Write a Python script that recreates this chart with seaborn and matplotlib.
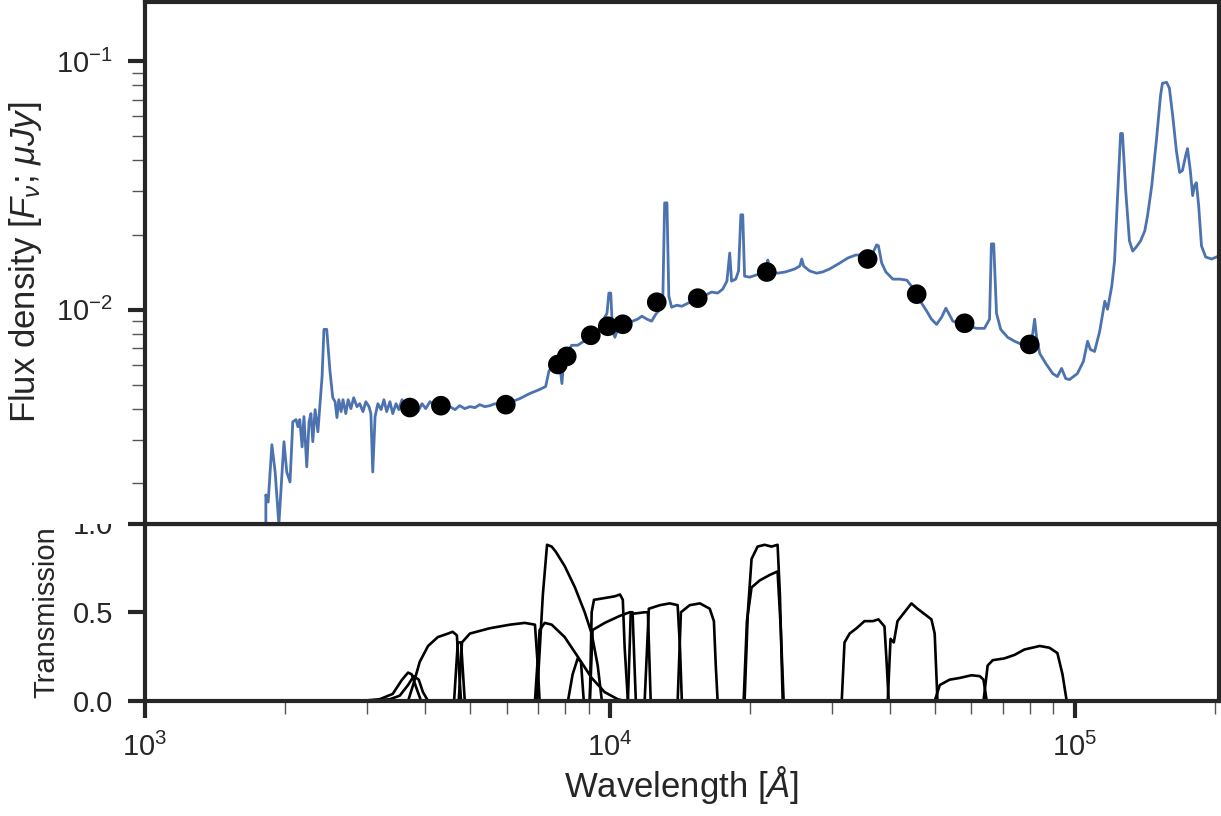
import numpy as np
import pandas as pd
import matplotlib
matplotlib.use("Agg")
import matplotlib.pyplot as plt
import seaborn as sns
from matplotlib.transforms import Bbox, TransformedBbox
from matplotlib.ticker import LogLocator, NullFormatter

# ---------------- data ----------------
# model spectrum: log10 wavelength [Angstrom], log10 flux density [uJy]
spec_log_wave = [
    3.260, 3.260, 3.265, 3.273, 3.280, 3.288, 3.299, 3.305, 3.312, 3.318,
    3.325, 3.329, 3.333, 3.338, 3.342, 3.348, 3.353, 3.357, 3.361, 3.366,
    3.372, 3.376, 3.381, 3.385, 3.391, 3.398, 3.404, 3.409, 3.413, 3.417,
    3.422, 3.426, 3.432, 3.437, 3.443, 3.449, 3.456, 3.462, 3.469, 3.475,
    3.482, 3.486, 3.490, 3.495, 3.501, 3.508, 3.514, 3.520, 3.527, 3.533,
    3.540, 3.546, 3.553, 3.559, 3.570, 3.581, 3.587, 3.596, 3.604, 3.613,
    3.624, 3.634, 3.645, 3.656, 3.667, 3.677, 3.688, 3.699, 3.710, 3.720,
    3.731, 3.742, 3.753, 3.763, 3.776, 3.789, 3.806, 3.828, 3.849, 3.862,
    3.869, 3.877, 3.886, 3.892, 3.897, 3.901, 3.910, 3.918, 3.931, 3.944,
    3.957, 3.970, 3.978, 3.987, 3.994, 3.998, 4.002, 4.006, 4.011, 4.017,
    4.026, 4.037, 4.049, 4.060, 4.069, 4.080, 4.090, 4.099, 4.108, 4.114,
    4.118, 4.123, 4.127, 4.133, 4.144, 4.155, 4.168, 4.178, 4.194, 4.206,
    4.219, 4.232, 4.243, 4.252, 4.258, 4.262, 4.271, 4.277, 4.282, 4.286,
    4.290, 4.301, 4.314, 4.327, 4.338, 4.340, 4.344, 4.361, 4.378, 4.398,
    4.409, 4.413, 4.417, 4.430, 4.445, 4.458, 4.473, 4.495, 4.512, 4.529,
    4.542, 4.555, 4.566, 4.574, 4.578, 4.585, 4.594, 4.609, 4.624, 4.639,
    4.649, 4.660, 4.671, 4.682, 4.692, 4.703, 4.714, 4.723, 4.729, 4.738,
    4.753, 4.763, 4.774, 4.789, 4.806, 4.817, 4.821, 4.826, 4.832, 4.841,
    4.856, 4.871, 4.886, 4.903, 4.910, 4.914, 4.918, 4.925, 4.938, 4.953,
    4.963, 4.972, 4.981, 4.989, 5.006, 5.019, 5.028, 5.034, 5.043, 5.054,
    5.065, 5.071, 5.080, 5.086, 5.092, 5.099, 5.103, 5.110, 5.118, 5.125,
    5.133, 5.142, 5.151, 5.157, 5.166, 5.176, 5.185, 5.189, 5.198, 5.204,
    5.211, 5.219, 5.226, 5.232, 5.239, 5.243, 5.249, 5.254, 5.258, 5.262,
    5.267, 5.273, 5.282, 5.295, 5.310, 5.330,
]
spec_log_flux = [
    -2.867, -2.745, -2.774, -2.543, -2.653, -2.863, -2.531, -2.653, -2.693, -2.451,
    -2.442, -2.471, -2.442, -2.552, -2.430, -2.632, -2.451, -2.418, -2.531, -2.402,
    -2.491, -2.390, -2.269, -2.079, -2.079, -2.248, -2.354, -2.370, -2.434, -2.362,
    -2.410, -2.362, -2.418, -2.362, -2.398, -2.354, -2.390, -2.378, -2.410, -2.370,
    -2.390, -2.418, -2.653, -2.430, -2.378, -2.402, -2.362, -2.410, -2.370, -2.418,
    -2.378, -2.402, -2.362, -2.410, -2.390, -2.370, -2.410, -2.378, -2.398, -2.370,
    -2.386, -2.378, -2.402, -2.390, -2.402, -2.386, -2.398, -2.390, -2.394, -2.382,
    -2.390, -2.386, -2.378, -2.386, -2.378, -2.370, -2.358, -2.337, -2.321, -2.309,
    -2.248, -2.224, -2.232, -2.216, -2.297, -2.200, -2.168, -2.143, -2.143, -2.127,
    -2.111, -2.099, -2.071, -2.038, -2.014, -1.933, -1.933, -2.087, -2.111, -2.079,
    -2.071, -2.055, -2.046, -2.038, -2.026, -2.038, -2.046, -2.018, -1.998, -1.966,
    -1.570, -1.570, -1.945, -1.990, -1.982, -1.986, -1.974, -1.966, -1.958, -1.941,
    -1.929, -1.933, -1.917, -1.885, -1.772, -1.885, -1.877, -1.844, -1.618, -1.618,
    -1.865, -1.869, -1.861, -1.853, -1.844, -1.800, -1.844, -1.853, -1.848, -1.836,
    -1.824, -1.796, -1.824, -1.844, -1.853, -1.848, -1.836, -1.812, -1.792, -1.780,
    -1.780, -1.796, -1.772, -1.739, -1.743, -1.812, -1.848, -1.877, -1.877, -1.881,
    -1.905, -1.937, -1.974, -2.006, -2.038, -2.059, -2.030, -1.994, -2.014, -2.046,
    -2.055, -2.055, -2.067, -2.075, -2.075, -2.038, -1.735, -1.735, -2.014, -2.079,
    -2.111, -2.127, -2.139, -2.139, -2.095, -2.038, -2.107, -2.176, -2.216, -2.257,
    -2.269, -2.236, -2.277, -2.281, -2.257, -2.208, -2.127, -2.160, -2.168, -2.087,
    -1.966, -1.998, -1.905, -1.804, -1.562, -1.291, -1.291, -1.521, -1.723, -1.764,
    -1.747, -1.723, -1.683, -1.622, -1.501, -1.319, -1.137, -1.089, -1.085, -1.109,
    -1.218, -1.360, -1.448, -1.440, -1.380, -1.352, -1.440, -1.541, -1.501, -1.489,
    -1.582, -1.743, -1.788, -1.796, -1.784, -1.782,
]

# photometry points: wavelength [Angstrom], flux density [uJy]
phot_wave = [3715, 4331, 5974, 7731, 8080, 9102, 9901, 10665,
             12620, 15460, 21760, 35870, 45740, 57990, 80050]
phot_flux = [0.00404, 0.00411, 0.00415, 0.00602, 0.00649, 0.00789, 0.00858, 0.00874,
             0.01072, 0.01113, 0.01418, 0.01600, 0.01155, 0.00882, 0.00725]

# filter transmission curves: log10 wavelength [Angstrom] and transmission
filt_u1_logw = [3.462, 3.505, 3.533, 3.553, 3.566, 3.574, 3.583, 3.594]
filt_u1_T = [0, 0.01, 0.04, 0.12, 0.16, 0.15, 0.08, 0]
filt_u2_logw = [3.484, 3.527, 3.548, 3.566, 3.578, 3.589, 3.598, 3.609]
filt_u2_T = [0, 0.01, 0.03, 0.09, 0.14, 0.12, 0.05, 0]
filt_g_logw = [3.566, 3.578, 3.591, 3.609, 3.630, 3.652, 3.662, 3.671, 3.675, 3.680]
filt_g_T = [0, 0.10, 0.22, 0.31, 0.36, 0.38, 0.39, 0.37, 0.20, 0]
filt_n1_logw = [3.665, 3.673, 3.680, 3.688]
filt_n1_T = [0, 0.33, 0.33, 0]
filt_r_logw = [3.675, 3.682, 3.699, 3.742, 3.785, 3.817, 3.839, 3.845, 3.849]
filt_r_T = [0, 0.33, 0.38, 0.41, 0.43, 0.44, 0.43, 0.20, 0]
filt_w_logw = [3.839, 3.849, 3.860, 3.875, 3.903, 3.931, 3.961, 3.989, 4.017, 4.032]
filt_w_T = [0, 0.40, 0.44, 0.43, 0.36, 0.25, 0.13, 0.05, 0.01, 0]
filt_i_logw = [3.843, 3.856, 3.865, 3.875, 3.884, 3.903, 3.925, 3.946, 3.961, 3.974, 3.983]
filt_i_T = [0, 0.60, 0.88, 0.87, 0.84, 0.76, 0.64, 0.50, 0.38, 0.20, 0]
filt_nb_logw = [3.910, 3.920, 3.931, 3.938, 3.944]
filt_nb_T = [0, 0.15, 0.24, 0.22, 0]
filt_z_logw = [3.957, 3.961, 3.966, 3.989, 4.011, 4.022, 4.028, 4.032, 4.039]
filt_z_T = [0, 0.50, 0.57, 0.58, 0.59, 0.60, 0.57, 0.30, 0]
filt_y_logw = [3.957, 3.963, 3.989, 4.022, 4.043, 4.049, 4.056]
filt_y_T = [0, 0.40, 0.44, 0.48, 0.50, 0.50, 0]
filt_Y_logw = [4.039, 4.045, 4.075, 4.082, 4.088]
filt_Y_T = [0, 0.49, 0.50, 0.50, 0]
filt_J_logw = [4.075, 4.084, 4.108, 4.129, 4.146, 4.151, 4.155]
filt_J_T = [0, 0.52, 0.54, 0.55, 0.54, 0.30, 0]
filt_H_logw = [4.146, 4.153, 4.172, 4.194, 4.215, 4.224, 4.228, 4.232]
filt_H_T = [0, 0.50, 0.54, 0.55, 0.52, 0.45, 0.20, 0]
filt_K1_logw = [4.290, 4.297, 4.305, 4.318, 4.333, 4.348, 4.361, 4.366, 4.372]
filt_K1_T = [0, 0.50, 0.80, 0.87, 0.88, 0.87, 0.88, 0.60, 0]
filt_K2_logw = [4.288, 4.295, 4.305, 4.323, 4.344, 4.361, 4.368, 4.374]
filt_K2_T = [0, 0.45, 0.64, 0.68, 0.71, 0.73, 0.40, 0]
filt_ch1_logw = [4.499, 4.505, 4.516, 4.531, 4.548, 4.566, 4.578, 4.591, 4.596, 4.600]
filt_ch1_T = [0, 0.33, 0.38, 0.41, 0.45, 0.45, 0.46, 0.42, 0.20, 0]
filt_ch2_logw = [4.598, 4.604, 4.611, 4.619, 4.634, 4.649, 4.662, 4.677, 4.692, 4.699, 4.705]
filt_ch2_T = [0, 0.35, 0.33, 0.45, 0.50, 0.55, 0.52, 0.49, 0.46, 0.38, 0]
filt_ch3_logw = [4.699, 4.710, 4.731, 4.753, 4.778, 4.796, 4.804, 4.811]
filt_ch3_T = [0, 0.09, 0.12, 0.13, 0.145, 0.14, 0.12, 0]
filt_ch4_logw = [4.804, 4.813, 4.824, 4.849, 4.871, 4.892, 4.925, 4.946, 4.963, 4.974, 4.983]
filt_ch4_T = [0, 0.20, 0.23, 0.24, 0.26, 0.29, 0.31, 0.30, 0.27, 0.15, 0]

filter_curves = [
    (filt_u1_logw, filt_u1_T), (filt_u2_logw, filt_u2_T), (filt_g_logw, filt_g_T),
    (filt_n1_logw, filt_n1_T), (filt_r_logw, filt_r_T), (filt_w_logw, filt_w_T),
    (filt_i_logw, filt_i_T), (filt_nb_logw, filt_nb_T), (filt_z_logw, filt_z_T),
    (filt_y_logw, filt_y_T), (filt_Y_logw, filt_Y_T), (filt_J_logw, filt_J_T),
    (filt_H_logw, filt_H_T), (filt_K1_logw, filt_K1_T), (filt_K2_logw, filt_K2_T),
    (filt_ch1_logw, filt_ch1_T), (filt_ch2_logw, filt_ch2_T),
    (filt_ch3_logw, filt_ch3_T), (filt_ch4_logw, filt_ch4_T),
]

trans_ticks = [0.0, 0.5, 1.0]
x_limits = (1.0e3, 2.04e5)
flux_limits = (1.38e-3, 0.173)

# ---------------- style ----------------
sns.set_theme(style="ticks")
plt.rcParams["font.family"] = ["Liberation Sans", "DejaVu Sans"]
plt.rcParams["mathtext.fontset"] = "custom"
plt.rcParams["mathtext.rm"] = "Liberation Sans"
plt.rcParams["mathtext.it"] = "Liberation Sans:italic"
plt.rcParams["mathtext.bf"] = "Liberation Sans:bold"
DARK = "#262626"

W, H = 1221, 816
fig = plt.figure(figsize=(W / 100, H / 100), dpi=100)
left, right = 145 / W, 1218.5 / W
y_top, y_mid, y_bot = 1 - 2 / H, 1 - 523.5 / H, 1 - 701 / H
ax2 = fig.add_axes([left, y_bot, right - left, y_mid - y_bot])
ax1 = fig.add_axes([left, y_mid, right - left, y_top - y_mid])

# ---------------- top panel: SED ----------------
spec = pd.DataFrame({"wave": 10 ** np.array(spec_log_wave),
                     "flux": 10 ** np.array(spec_log_flux)})
phot = pd.DataFrame({"wave": phot_wave, "flux": phot_flux})

sns.lineplot(data=spec, x="wave", y="flux", ax=ax1, sort=False, estimator=None,
             color="#4C72B0", lw=2.0, zorder=2)
sns.scatterplot(data=phot, x="wave", y="flux", ax=ax1, color="black", s=200,
                edgecolor="none", zorder=3)
ax1.set_xscale("log")
ax1.set_yscale("log")
ax1.set_xlim(*x_limits)
ax1.set_ylim(*flux_limits)
ax1.set_xlabel("")
ax1.set_ylabel(r"Flux density [$F_{\nu}$; $\mu Jy$]", fontsize=25, color=DARK, labelpad=9)
ax1.tick_params(axis="x", which="both", bottom=False, labelbottom=False)

# ---------------- bottom panel: filters ----------------
for lw_arr, t_arr in filter_curves:
    sns.lineplot(x=10 ** np.array(lw_arr), y=np.array(t_arr), ax=ax2, sort=False,
                 estimator=None, color="black", lw=1.9)
ax2.set_xscale("log")
ax2.set_xlim(*x_limits)
ax2.set_ylim(0, 1.0)
ax2.set_yticks(trans_ticks)
ax2.set_yticklabels([f"{t:.1f}" for t in trans_ticks])
ax2.set_xlabel(r"Wavelength [$\AA$]", fontsize=25, color=DARK, labelpad=1)
ax2.set_ylabel("Transmission", fontsize=21, color=DARK, labelpad=9)

for ax in (ax1, ax2):
    for sp in ax.spines.values():
        sp.set_linewidth(3)
        sp.set_color(DARK)
    ax.tick_params(which="major", length=12, width=3, color=DARK,
                   labelsize=21, labelcolor=DARK, pad=11)
    ax.tick_params(which="minor", length=9.5, width=1, color="#555555")

ax2.xaxis.set_minor_locator(LogLocator(base=10, subs=np.arange(2, 10), numticks=20))
ax2.xaxis.set_minor_formatter(NullFormatter())
ax1.yaxis.set_minor_locator(LogLocator(base=10, subs=np.arange(2, 10), numticks=20))
ax1.yaxis.set_minor_formatter(NullFormatter())

# the top panel hides the part of the bottom panel's "1.0" label above its edge
clip = TransformedBbox(Bbox.from_extents(0, 0, 1, y_mid), fig.transFigure)
for tk in ax2.yaxis.get_major_ticks():
    tk.label1.set_clip_on(True)
    tk.label1.set_clip_box(clip)

fig.savefig("out.png", dpi=100)
